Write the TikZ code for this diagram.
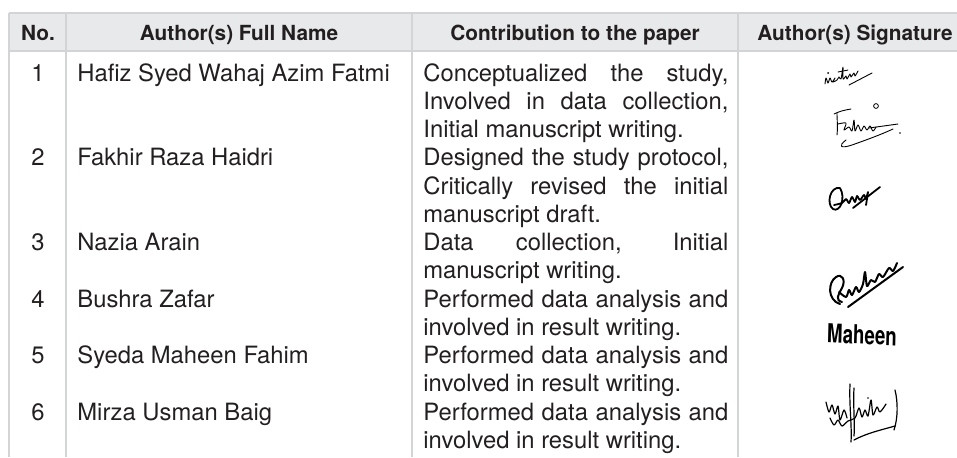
\documentclass[tikz,border=0pt]{standalone}
\usepackage{fontspec}
\setmainfont{TeX Gyre Heros}
\definecolor{hdrgray}{HTML}{E8E9EA}
\definecolor{rulegray}{HTML}{D3D4D6}
\definecolor{inkgray}{HTML}{231F20}
\tolerance=10000
\hbadness=10000
\begin{document}
\begin{tikzpicture}[x=0.5pt,y=-0.5pt,
    body/.style={inner sep=0pt, text=inkgray, font=\fontsize{11.9}{14.125}\selectfont},
    head/.style={inner sep=0pt, text=inkgray, anchor=base,
        font=\fontsize{10.4}{12}\selectfont\bfseries},
    contrib/.style={body, anchor=base west, text width=152.5pt, align=justify},
    sig/.style={draw=black, line width=0.6pt, line cap=round, line join=round}]
    \useasboundingbox (0,0) rectangle (957,457);
    % header band and rules
    \fill[hdrgray] (9,13) rectangle (957,51);
    \draw[rulegray, line width=1pt] (9,13) -- (957,13);
    \draw[rulegray, line width=1pt] (9,51) -- (957,51);
    \foreach \x in {9,66,412,738}
        \draw[rulegray, line width=1pt] (\x,13) -- (\x,457);
    % header
    \node[head] (hno) at (38,40) {No.};
    \node[head] (hname) at (239,40) {Author(s) Full Name};
    \node[head] (hcontrib) at (575,40) {Contribution to the paper};
    \node[head] (hsig) at (855,40) {Author(s) Signature};
    % rows
    \node[body, anchor=base] (n1) at (38,81) {1};
    \node[body, anchor=base west] (a1) at (77,81) {Hafiz Syed Wahaj Azim Fatmi};
    \node[contrib] (c1) at (423,81) {Conceptualized the study,\break
        Involved in data collection,\break Initial manuscript writing.};
    \node[body, anchor=base] (n2) at (38,165.75) {2};
    \node[body, anchor=base west] (a2) at (77,165.75) {Fakhir Raza Haidri};
    \node[contrib] (c2) at (423,165.75) {Designed the study protocol,\break
        Critically revised the initial\break manuscript draft.};
    \node[body, anchor=base] (n3) at (38,250.5) {3};
    \node[body, anchor=base west] (a3) at (77,250.5) {Nazia Arain};
    \node[contrib] (c3) at (423,250.5) {Data collection, Initial\break
        manuscript writing.};
    \node[body, anchor=base] (n4) at (38,307) {4};
    \node[body, anchor=base west] (a4) at (77,307) {Bushra Zafar};
    \node[contrib] (c4) at (423,307) {Performed data analysis and\break
        involved in result writing.};
    \node[body, anchor=base] (n5) at (38,363.5) {5};
    \node[body, anchor=base west] (a5) at (77,363.5) {Syeda Maheen Fahim};
    \node[contrib] (c5) at (423,363.5) {Performed data analysis and\break
        involved in result writing.};
    \node[body, anchor=base] (n6) at (38,420) {6};
    \node[body, anchor=base west] (a6) at (77,420) {Mirza Usman Baig};
    \node[contrib] (c6) at (423,420) {Performed data analysis and\break
        involved in result writing.};
    % signatures
    \draw[sig, line width=0.45pt] plot[smooth] coordinates {(825,84) (826,78) (828,83)
        (830,78) (832,82) (835,78) (833,82) (837,80) (839,77) (841,79) (843,67)
        (843,79) (846,76) (847,79) (850,74) (851,77) (854,73) (855,76) (858,71)};
    \draw[sig, line width=0.45pt] (838,72) -- (848,70);
    \fill (828,73) circle[radius=0.5pt];
    \draw[sig, line width=0.45pt] (849,85) -- (872,73);
    \draw[sig, line width=0.45pt] (834,114) .. controls (840,111) and (845,110) .. (851,109);
    \draw[sig, line width=0.45pt] (837,113) .. controls (837,121) and (838,128) .. (837,135);
    \draw[sig, line width=0.45pt] plot[smooth] coordinates {(838,124) (846,123) (844,130)
        (849,127) (852,131) (854,120) (855,131) (858,125) (861,131) (864,126)
        (867,130) (870,126) (873,131) (876,127)};
    \draw[sig, line width=0.45pt] (869,128) -- (898,124);
    \draw[sig, line width=0.45pt] (846,140) .. controls (838,146) and (840,149) .. (852,145)
        .. controls (866,140) and (880,135) .. (893,129);
    \draw[sig, line width=0.4pt] (876,106) circle[radius=1.2pt];
    \fill (900,133) circle[radius=0.4pt];
    \draw[sig, line width=0.9pt] (840,188) .. controls (830,186) and (826,204) .. (833,209)
        .. controls (840,213) and (846,198) .. (840,188);
    \draw[sig, line width=0.9pt] plot[smooth] coordinates {(834,205) (842,203) (846,199)
        (849,203) (852,197) (855,202) (857,196) (860,200) (864,195) (866,199)
        (868,192) (866,205)};
    \draw[sig, line width=0.9pt] (853,208) -- (880,187);
    \draw[sig, line width=1pt] (840,304) .. controls (827,300) and (828,282) .. (836,277)
        .. controls (842,273) and (846,280) .. (842,288) .. controls (838,295) and (835,300) .. (842,302);
    \draw[sig, line width=1pt] plot[smooth] coordinates {(839,292) (846,297) (849,290)
        (852,295) (856,287) (859,292) (863,284) (865,272) (867,286) (871,280)
        (875,282) (879,274) (883,277) (889,268) (893,271) (897,263)};
    \draw[sig, line width=1pt] (848,307) -- (903,267);
    \node[inner sep=0pt, font=\fontsize{13}{13}\selectfont\bfseries, xscale=0.72,
        rotate=-2] (sig5) at (862,335) {Maheen};
    \draw[sig] (850,384) .. controls (849,405) and (852,425) .. (851,442);
    \draw[sig] (854,388) .. controls (853,405) and (855,425) .. (854,436);
    \draw[sig] plot[smooth] coordinates {(826,402) (829,412) (832,405) (835,414)
        (838,406) (840,420) (844,410) (847,418)};
    \draw[sig] plot[smooth] coordinates {(830,418) (834,425) (838,420) (842,426)
        (848,421) (855,418) (859,408) (862,417) (865,410) (868,416) (871,400)
        (873,415) (877,407) (880,412) (886,404)};
    \draw[sig] (895,390) .. controls (898,402) and (898,418) .. (894,430);
    \draw[sig] (854,440) .. controls (867,433) and (881,430) .. (895,426);
    \fill (868,398) circle[radius=0.4pt];
\end{tikzpicture}
\end{document}
